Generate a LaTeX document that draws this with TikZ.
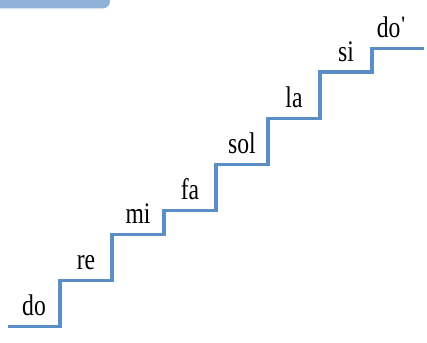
\documentclass[tikz,border=0pt]{standalone}
\usepackage{fontspec}
\setmainfont{Liberation Serif}
\newfontfamily\notefont[FakeStretch=0.79]{Liberation Serif}
\usetikzlibrary{calc}
\definecolor{StairLine}{HTML}{5B8EC6}
\definecolor{TabFill}{HTML}{8FB1D8}
\tikzset{stairline/.style={draw=StairLine,line width=3.1bp},
 notelab/.style={anchor=base,inner sep=0pt,font=\notefont\fontsize{30}{32}\selectfont}}
\begin{document}
\begin{tikzpicture}[x=52bp,y=23.15bp]
\clip (-0.154,-0.704) rectangle (8.058,14.112);
% tab at the top
\fill[TabFill,rounded corners=7bp] (-0.5,15) rectangle (1.96,13.75);
% the stairs, in semitones
\draw[stairline] (0,0)--(1,0)--(1,2)--(2,2)--(2,4)--(3,4)--(3,5)--(4,5)--(4,7)
 --(5,7)--(5,9)--(6,9)--(6,11)--(7,11)--(7,12)--(8,12);
\foreach \i/\lev/\lab in {0/0/do,1/2/re,2/4/mi,3/5/fa,4/7/sol,5/9/la,6/11/si}
 {\node[notelab] (n\i) at (\i+.5,\lev+.475) {\lab};}
\node[notelab,anchor=base west] (n7) at (7.09,12.475)
 {do\kern.5bp\raisebox{6.5bp}{\fontsize{22}{22}\selectfont\bfseries\textquotesingle}};
\end{tikzpicture}
\end{document}
